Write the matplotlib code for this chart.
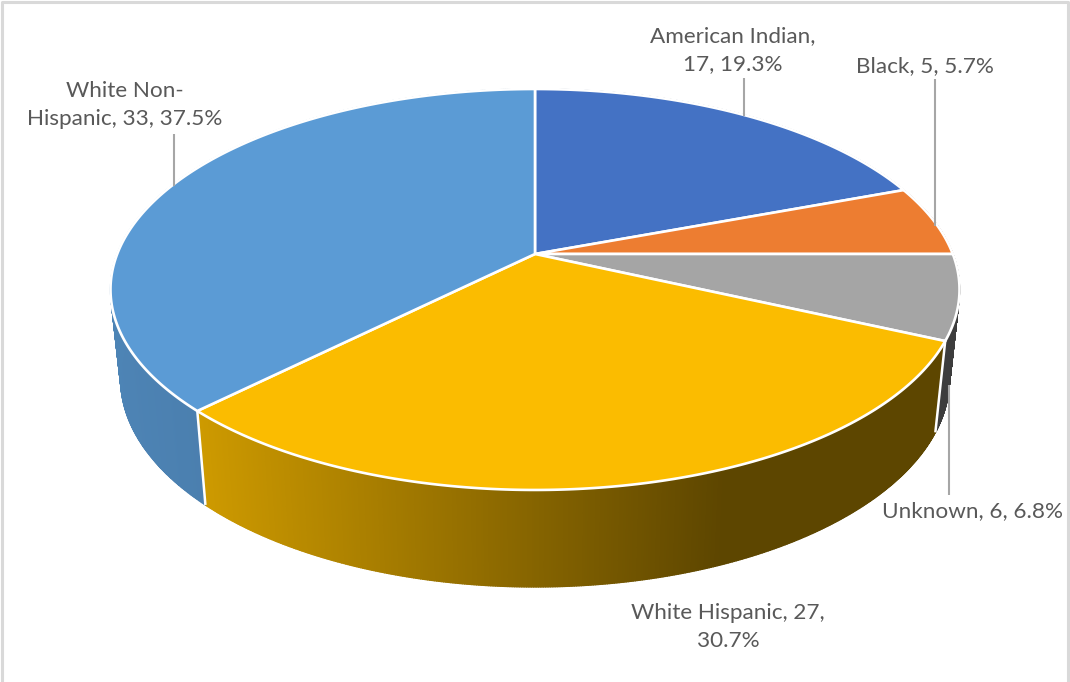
import numpy as np
import matplotlib
matplotlib.use("Agg")
import matplotlib.pyplot as plt
from matplotlib.collections import PolyCollection
from matplotlib.patches import Polygon

categories = ["American Indian", "Black", "Unknown", "White Hispanic", "White Non-Hispanic"]
values = [17, 5, 6, 27, 33]
labels = [
    "American Indian,\n17, 19.3%",
    "Black, 5, 5.7%",
    "Unknown, 6, 6.8%",
    "White Hispanic, 27,\n30.7%",
    "White Non-\nHispanic, 33, 37.5%",
]
colors = ["#4472C4", "#ED7D31", "#A5A5A5", "#FBBC00", "#5B9BD5"]

label_pos = [(733, 50), (925, 66), (972, 511), (728, 627), (125, 105)]
leaders = [((744, 78), (744, 116)), ((935, 79), (935, 226)), ((949, 385), (949, 495)), ((174, 134), (174, 186))]

# pie projection on screen, camera tilted so the near edge looks larger
cx, cy = 535, 254
persp = 0.177
scale_x, scale_y = 417.8, 194.2
# bottom face of the pie
drop = 88
bottom_sx, bottom_sy = 0.976, 1.038


def top_rim(theta):
    u, v = np.cos(theta), np.sin(theta)
    w = 1 + persp * v
    return cx + scale_x * u / w, cy - scale_y * v / w


def bottom_rim(theta):
    x, y = top_rim(theta)
    return cx + bottom_sx * (x - cx), cy + drop + bottom_sy * (y - cy)


def side_shade(x):
    return np.interp(x, [120, 205, 720], [0.85, 0.82, 0.37])


fig = plt.figure(figsize=(10.7, 6.82), dpi=100)
ax = fig.add_axes([0, 0, 1, 1])
ax.set_xlim(0, 1070)
ax.set_ylim(682, 0)
ax.axis("off")

# chart frame
ax.plot([2, 2, 1068, 1068], [682, 2, 2, 682], color="#D9D9D9", lw=2.2, zorder=1)

fracs = np.array(values) / sum(values)
edges = np.pi / 2 - 2 * np.pi * np.concatenate([[0], np.cumsum(fracs)])

# side walls, split into thin strips for the shading
for i in range(len(values)):
    th = np.linspace(edges[i], edges[i + 1], 400)
    xt, yt = top_rim(th)
    xb, yb = bottom_rim(th)
    quads = []
    cols = []
    base = np.array(matplotlib.colors.to_rgb(colors[i]))
    for j in range(len(th) - 1):
        quads.append([(xt[j], yt[j]), (xt[j + 1], yt[j + 1]), (xb[j + 1], yb[j + 1]), (xb[j], yb[j])])
        cols.append(base * side_shade((xb[j] + xb[j + 1]) / 2))
    ax.add_collection(PolyCollection(quads, facecolors=cols, edgecolors=cols, linewidths=1.0, zorder=2))
    # white seam where two walls meet
    x0, y0 = top_rim(edges[i])
    x1, y1 = bottom_rim(edges[i])
    ax.plot([x0, x1], [y0, y1], color="white", lw=1.8, zorder=3, solid_capstyle="butt")

# top face
for i in range(len(values)):
    th = np.linspace(edges[i], edges[i + 1], 200)
    xt, yt = top_rim(th)
    pts = np.column_stack([np.r_[cx, xt], np.r_[cy, yt]])
    ax.add_patch(Polygon(pts, closed=True, facecolor=colors[i], edgecolor="white", lw=1.9, joinstyle="round", zorder=4))

for (x0, y0), (x1, y1) in leaders:
    ax.plot([x0, x1], [y0, y1], color="#A6A6A6", lw=1.5, zorder=5, solid_capstyle="butt")

for text, (x, y) in zip(labels, label_pos):
    ax.text(x, y, text, ha="center", va="center", family="Lato", fontsize=16.2, color="#595959",
            linespacing=1.45, zorder=6)

fig.savefig("out.png", dpi=100)
